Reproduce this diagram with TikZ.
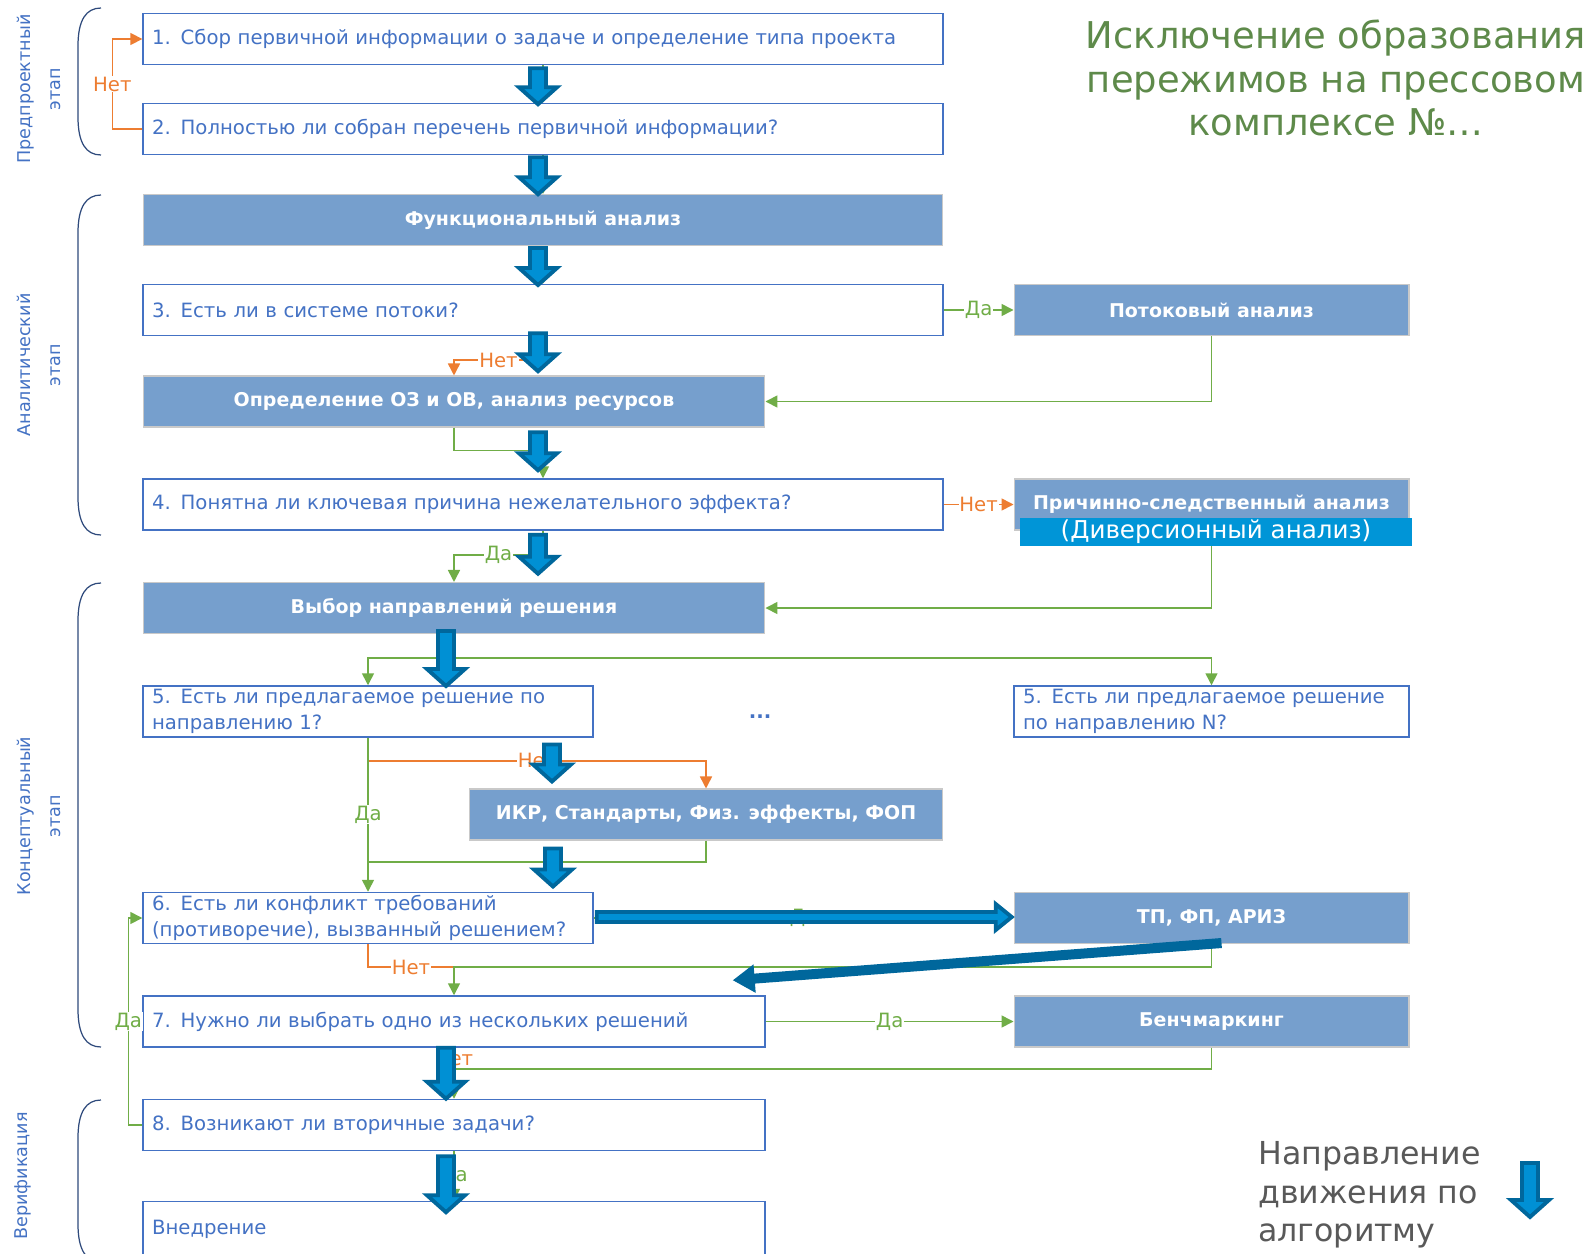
\documentclass[tikz,border=0pt]{standalone}
\usepackage{fontspec}
\setmainfont{DejaVu Sans}
\usepackage{tikz}
\usetikzlibrary{arrows.meta,positioning,calc}
\definecolor{boxblue}{HTML}{4472C4}
\definecolor{boxfill}{HTML}{769FCD}
\definecolor{boxedge}{HTML}{C9C9C9}
\definecolor{yescol}{HTML}{70AD47}
\definecolor{nocol}{HTML}{ED7D31}
\definecolor{arrdark}{HTML}{00679C}
\definecolor{arrfill}{HTML}{0090D4}
\definecolor{divfill}{HTML}{0095D7}
\definecolor{titlecol}{HTML}{5E8A4A}
\definecolor{legcol}{HTML}{595959}
\definecolor{bracecol}{HTML}{2F4A7C}
\newcommand{\boxfont}{\fontsize{11.2}{14.4}\selectfont}
\newcommand{\boldfont}{\fontsize{10.8}{13}\selectfont\bfseries}
\newcommand{\stagebrace}[2]{%
  \draw[brace] (101,#1) .. controls (86,#1) and (78,#1+12) .. (78,#1+38)
    -- (78,#2-38) .. controls (78,#2-12) and (86,#2) .. (101,#2);}

\begin{document}
\begin{tikzpicture}[
  x=0.02cm, y=-0.02cm,
  qbox/.style={draw=boxblue, line width=0.85pt, fill=white, text=boxblue,
               font=\boxfont, align=left, inner xsep=0.18cm, inner ysep=0.05cm,
               minimum height=1.02cm},
  abox/.style={draw=boxedge, line width=0.6pt, fill=boxfill, text=white,
               font=\boldfont, align=center, minimum height=1.02cm},
  yes/.style={draw=yescol, line width=0.9pt, -{Triangle[length=2.4mm,width=2.4mm]}},
  no/.style={draw=nocol, line width=0.9pt, -{Triangle[length=2.4mm,width=2.4mm]}},
  yline/.style={draw=yescol, line width=0.9pt},
  nline/.style={draw=nocol, line width=0.9pt},
  ylbl/.style={fill=white, inner sep=0.5pt, font=\boxfont, text=yescol},
  nlbl/.style={fill=white, inner sep=0.5pt, font=\boxfont, text=nocol},
  bigarr/.style={draw=arrdark, line width=2.2pt, fill=arrfill},
  brace/.style={draw=bracecol, line width=0.7pt},
  stage/.style={rotate=90, text=boxblue, font=\fontsize{10}{17}\selectfont, align=center},
  pics/bigdown/.style={code={
    \draw[bigarr] (-8,0) -- (8,0) -- (8,#1-17) -- (19,#1-17) -- (0,#1)
      -- (-19,#1-17) -- (-8,#1-17) -- cycle;}},
  pics/bigright/.style={code={
    \draw[bigarr] (0,-5) -- (#1-16,-5) -- (#1-16,-13) -- (#1,0)
      -- (#1-16,13) -- (#1-16,5) -- (0,5) -- cycle;}},
]
  \useasboundingbox (0,0) rectangle (1589,1254);
  \fill[white] (0,0) rectangle (1589,1254);

  % stages on the left
  \stagebrace{8}{155}
  \stagebrace{195}{535}
  \stagebrace{583}{1047}
  \stagebrace{1100}{1262}
  \node[stage] (st1) at (39,89) {Предпроектный\\этап};
  \node[stage] (st2) at (39,365) {Аналитический\\этап};
  \node[stage] (st3) at (39,816) {Концептуальный\\этап};
  \node[stage] (st4) at (23,1176) {Верификация};

  % blocks
  \node[qbox, text width=15.64cm] (q1) at (543,39) {1. Сбор первичной информации о задаче и определение типа проекта};
  \node[qbox, text width=15.64cm] (q2) at (543,129) {2. Полностью ли собран перечень первичной информации?};
  \node[abox, minimum width=16cm] (fa) at (543,220) {Функциональный анализ};
  \node[qbox, text width=15.64cm] (q3) at (543,310) {3. Есть ли в системе потоки?};
  \node[abox, minimum width=7.9cm] (flow) at (1211.5,310) {Потоковый анализ};
  \node[abox, minimum width=12.44cm] (oz) at (454,401.5) {Определение ОЗ и ОВ, анализ ресурсов};
  \node[qbox, text width=15.64cm] (q4) at (543,504.5) {4. Понятна ли ключевая причина нежелательного эффекта?};
  \node[abox, minimum width=7.9cm] (cause) at (1211.5,504.5) {Причинно-следственный анализ};
  \node[abox, minimum width=12.44cm] (dir) at (454,608) {Выбор направлений решения};
  \node[qbox, text width=8.64cm] (q5a) at (368,711.5) {5. Есть ли предлагаемое решение по\\направлению 1?};
  \node[text=boxblue, font=\boxfont\bfseries] (dots) at (760,717) {...};
  \node[qbox, text width=7.54cm] (q5n) at (1211.5,711.5) {5. Есть ли предлагаемое решение\\по направлению N?};
  \node[abox, minimum width=9.48cm] (ikr) at (706,814.5) {ИКР, Стандарты, Физ. эффекты, ФОП};
  \node[qbox, text width=8.64cm] (q6) at (368,918) {6. Есть ли конфликт требований\\(противоречие), вызванный решением?};
  \node[abox, minimum width=7.9cm] (triz) at (1211.5,918) {ТП, ФП, АРИЗ};
  \node[qbox, text width=12.08cm] (q7) at (454,1021.5) {7. Нужно ли выбрать одно из нескольких решений};
  \node[abox, minimum width=7.9cm] (bench) at (1211.5,1021.5) {Бенчмаркинг};
  \node[qbox, text width=12.08cm] (q8) at (454,1125) {8. Возникают ли вторичные задачи?};
  \node[qbox, text width=12.08cm, minimum height=1.1cm] (impl) at (454,1229) {Внедрение};

  % thin connectors
  \draw[yes] (q1) -- (q2);
  \draw[no] (q2.west) -- ++(-30,0) |- node[nlbl, pos=0.25] {Нет} (q1.west);
  \draw[yes] (q2) -- (fa);
  \draw[yes] (fa) -- (q3);
  \draw[yes] (q3.east) -- node[ylbl] {Да} (flow.west);
  \draw[no] (q3.south) -- ++(0,24) -| node[nlbl, pos=0.25] {Нет} (oz.north);
  \draw[yes] (flow.south) |- (oz.east);
  \draw[yes] (oz.south) -- ++(0,23) -| (q4.north);
  \draw[no] (q4.east) -- node[nlbl] {Нет} (cause.west);
  \draw[yes] (q4.south) -- ++(0,24) -| node[ylbl, pos=0.25] {Да} (dir.north);
  \draw[yes] (cause.south) |- (dir.east);
  \coordinate (split) at ($(dir.south)+(0,24)$);
  \draw[yes] (dir.south) -- (split) -| (q5a.north);
  \draw[yes] (split) -| (q5n.north);
  \draw[no] (q5a.south) -- ++(0,23) -| node[nlbl, pos=0.25] {Нет} (ikr.north);
  \draw[yes] (q5a) -- node[ylbl] {Да} (q6);
  \coordinate (join6) at ($(q6.north)+(0,-30)$);
  \draw[yline] (ikr.south) |- (join6);
  \draw[yes] (q6.east) -- node[ylbl] {Да} (triz.west);
  \coordinate (join7) at ($(q7.north)+(0,-28)$);
  \draw[nline] (q6.south) |- node[nlbl, pos=0.75] {Нет} (join7);
  \draw[yes] (triz.south) |- (join7) -- (q7.north);
  \draw[yes] (q7.east) -- node[ylbl] {Да} (bench.west);
  \coordinate (join8) at ($(q8.north)+(0,-30)$);
  \draw[nline] (q7.south) -- node[nlbl] {Нет} (join8);
  \draw[yes] (bench.south) |- (join8) -- (q8.north);
  \draw[yes] (q8.west) -- ++(-14,0) |- node[ylbl, pos=0.25] {Да} (q6.west);
  \draw[yes] (q8) -- node[ylbl] {Да} (impl);

  \node[fill=divfill, text=white, font=\fontsize{14}{16}\selectfont, minimum width=7.84cm,
        minimum height=0.56cm, inner sep=0pt] (div) at (1216,532) {(Диверсионный анализ)};

  % main direction arrows
  \pic at ($(q1.south)+(-5,3)$) {bigdown=36};
  \pic at ($(q2.south)+(-5,2)$) {bigdown=37};
  \pic at ($(fa.south)+(-5,2)$) {bigdown=37};
  \pic at ($(q3.south)+(-5,-3)$) {bigdown=38};
  \pic at ($(q4.north)+(-5,-46)$) {bigdown=38};
  \pic at ($(q4.south)+(-5,4)$) {bigdown=39};
  \pic at ($(dir.south)+(-8,-3)$) {bigdown=55};
  \pic at ($(ikr.north)+(-154,-44)$) {bigdown=37};
  \pic at ($(ikr.south)+(-153,8)$) {bigdown=38};
  \pic at ($(q7.south)+(-8,0)$) {bigdown=51};
  \pic at ($(q8.south)+(-8,5)$) {bigdown=56};
  \pic at ($(q6.east)+(3,-1)$) {bigright=415};
  \draw[draw=arrdark, line width=0.2cm, -{Triangle[length=0.44cm,width=0.54cm]}]
    ($(triz.south)+(10,-1)$) -- ($(q7.north east)+(-33,-15)$);

  % title and legend
  \node[font=\fontsize{21}{25}\selectfont, text=titlecol, align=center] (title) at (1336,78)
    {Исключение образования\\пережимов на прессовом\\комплексе №…};
  \node[anchor=west, inner sep=0pt, font=\fontsize{18}{22}\selectfont, text=legcol, align=left]
    (legend) at (1258,1195) {Направление\\движения по\\алгоритму};
  \pic at (1530,1163) {bigdown=54};
\end{tikzpicture}
\end{document}
